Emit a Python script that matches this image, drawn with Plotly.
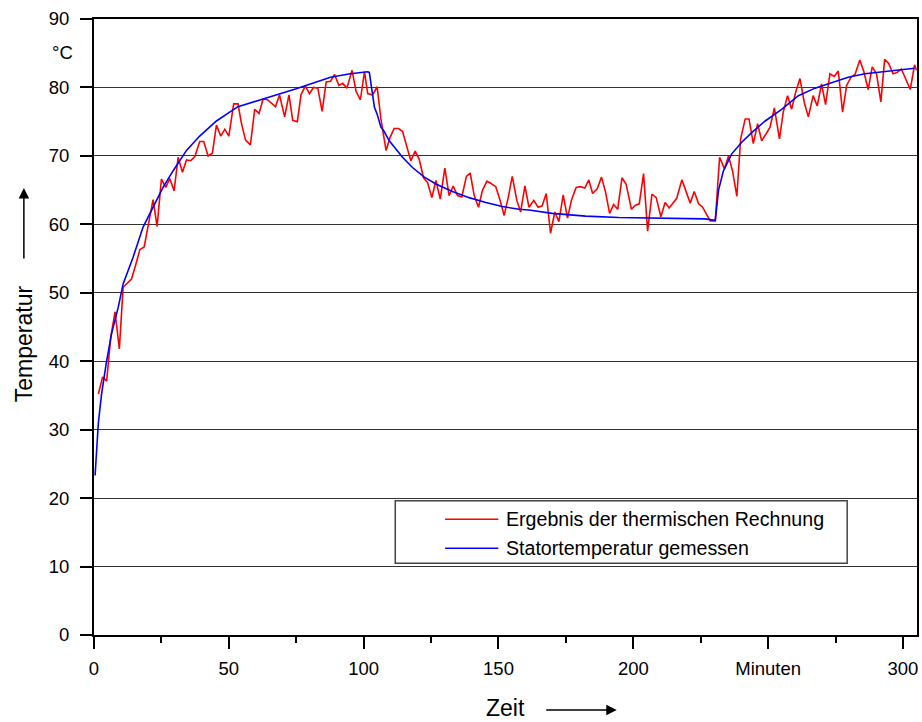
import plotly.graph_objects as go

# ---- data ----
red_t = [1.6, 3.2, 4.7, 6.2, 7.8, 9.4, 10.8, 12.3, 13.9, 15.4, 17.0, 18.6, 20.3, 21.9, 23.4, 25.0,
         26.6, 28.1, 29.7, 31.2, 32.8, 34.3, 35.9, 37.4, 39.2, 40.7, 42.3, 43.9, 45.4, 47.0,
         48.5, 50.0, 51.8, 53.4, 54.6, 56.2, 58.0, 59.6, 61.2, 62.7, 64.3, 65.7, 67.3, 68.8,
         70.7, 72.3, 73.7, 75.4, 76.8, 78.4, 79.9, 81.4, 83.0, 84.6, 86.1, 87.7, 89.2, 90.8,
         92.2, 93.8, 95.7, 97.2, 98.8, 100.3, 101.5, 103.3, 105.0, 106.4, 108.3, 109.8, 111.3,
         112.9, 114.4, 115.9, 117.5, 119.1, 120.6, 122.2, 123.7, 125.3, 126.8, 128.4, 130.1,
         131.7, 133.2, 134.8, 136.4, 138.1, 139.5, 141.0, 142.6, 144.0, 145.7, 147.1, 149.0,
         150.6, 152.1, 153.6, 155.1, 156.8, 158.2, 159.8, 161.3, 163.1, 164.7, 166.2, 167.7,
         169.3, 170.9, 172.4, 174.0, 175.6, 177.1, 178.8, 180.4, 182.0, 183.5, 184.9, 186.6,
         188.2, 189.7, 191.2, 192.7, 194.2, 195.8, 197.3, 199.3, 200.8, 202.2, 203.8, 205.3,
         206.9, 208.5, 210.2, 211.8, 213.3, 214.6, 216.1, 218.0, 219.5, 221.1, 222.6, 224.2,
         225.7, 227.3, 228.5, 230.4, 232.0, 233.8, 235.3, 236.8, 238.4, 239.8, 241.5, 242.9,
         244.5, 246.1, 247.6, 249.2, 250.7, 252.3, 254.2, 255.6, 257.2, 258.7, 260.2, 261.8,
         263.4, 264.9, 266.7, 268.2, 269.8, 271.3, 272.9, 274.5, 276.0, 277.6, 279.1, 280.7,
         282.2, 284.0, 285.5, 287.1, 288.6, 290.2, 291.8, 293.2, 294.7, 296.3, 297.9, 299.4,
         301.3, 302.7, 304.3, 305.0]
red_T = [35.2, 37.7, 37.1, 43.5, 47.2, 41.8, 50.8, 51.4, 52.0, 54.0, 56.3, 56.7, 60.5, 63.6, 59.7, 66.6,
         65.4, 66.7, 64.9, 69.8, 67.6, 69.4, 69.3, 69.9, 72.1, 72.1, 70.0, 70.4, 74.5, 72.9,
         73.9, 72.9, 77.6, 77.6, 74.9, 72.3, 71.6, 76.8, 76.2, 78.3, 78.2, 77.7, 77.2, 78.9,
         75.7, 78.9, 75.2, 75.0, 79.0, 80.2, 79.1, 80.0, 79.9, 76.5, 80.8, 80.9, 81.9, 80.3,
         80.6, 79.9, 82.5, 79.4, 78.2, 82.3, 79.1, 78.9, 80.1, 75.4, 70.8, 72.7, 74.0,
         74.0, 73.6, 71.5, 69.3, 70.7, 69.5, 66.8, 66.1, 63.9, 66.4, 63.7, 68.2,
         64.2, 65.6, 64.2, 64.0, 67.0, 67.5, 64.2, 62.5, 64.9, 66.3, 66.0, 65.5,
         63.5, 61.3, 63.9, 67.0, 63.5, 61.8, 65.6, 62.5, 63.5, 62.5, 62.7, 64.5,
         58.7, 61.8, 60.4, 64.3, 60.9, 63.6, 65.4, 65.5, 65.3, 66.5, 64.5, 65.2,
         66.9, 64.7, 61.6, 62.9, 62.2, 66.8, 65.9, 62.2, 62.8, 63.0, 67.4, 59.0,
         64.4, 63.9, 61.1, 63.2, 62.4, 63.0, 63.8, 66.5, 64.8, 63.1, 64.8, 63.0,
         62.5, 61.3, 60.5, 60.5, 69.8, 68.1, 70.0, 67.8, 64.1, 72.5, 75.4, 75.4,
         71.8, 74.7, 72.2, 73.2, 74.2, 77.0, 72.5, 76.4, 78.8, 76.8, 79.3, 81.3,
         77.8, 75.7, 78.8, 77.3, 80.5, 77.5, 82.0, 81.6, 82.4, 76.4, 80.3, 81.5,
         81.9, 84.0, 82.3, 79.7, 83.0, 82.0, 77.9, 84.1, 83.5, 82.0, 82.2, 82.7,
         81.1, 79.7, 83.3, 82.5]

blue_t = [0.4, 1.6, 2.8, 4.7, 6.5, 9.0, 10.8, 14.5, 18.2, 21.9, 25.6, 29.3, 34.3, 39.2, 45.4,
          50.3, 53.4, 62.7, 75.0, 87.7, 95.0, 101.5, 102.1, 103.3, 104.0, 105.0, 106.4, 107.4,
          109.5, 114.4, 118.1, 122.5, 126.8, 132.9, 139.1, 145.3, 151.4, 157.6, 161.3, 169.9,
          182.3, 194.6, 206.9, 219.3, 226.6, 230.4, 231.6, 233.4, 236.5, 240.2, 243.9, 248.9,
          255.0, 261.2, 267.4, 273.5, 279.7, 285.9, 292.0, 298.2, 304.3]
blue_T = [23.3, 30.9, 35.2, 40.1, 44.0, 47.9, 51.3, 55.2, 59.6, 62.5, 65.4, 67.8, 70.8, 72.9, 75.1,
          76.4, 77.2, 78.3, 79.8, 81.5, 82.0, 82.3, 82.2, 79.0, 77.1, 76.1, 74.2, 73.7,
          72.2, 69.8, 68.3, 66.9, 65.9, 64.8, 63.9, 63.2, 62.6, 62.2, 62.1, 61.6,
          61.2, 61.0, 60.9, 60.9, 60.8, 60.6, 65.0, 67.8, 70.3, 72.0, 73.4, 75.1,
          76.8, 78.8, 79.9, 80.7, 81.5, 82.0, 82.3, 82.6, 82.8]

x_tickvals = [0, 50, 100, 150, 200, 250, 300]
x_ticktext = ["0", "50", "100", "150", "200", "Minuten", "300"]
y_tickvals = [0, 10, 20, 30, 40, 50, 60, 70, 80, 90]

red_name = "Ergebnis der thermischen Rechnung"
blue_name = "Statortemperatur gemessen"

FONT = "Liberation Sans, Arial, sans-serif"

fig = go.Figure()
fig.add_trace(go.Scatter(x=red_t, y=red_T, mode="lines", name=red_name,
                         line=dict(color="#FF0000", width=1.6), showlegend=False))
fig.add_trace(go.Scatter(x=blue_t, y=blue_T, mode="lines", name=blue_name,
                         line=dict(color="#0000FF", width=1.6), showlegend=False))

L, R, T, B = 94, 3, 19, 87
W, H = 922, 722
pw, ph = W - L - R, H - T - B


def px(xp):
    return (xp - L) / pw


def py(yp):
    return (H - B - yp) / ph


fig.update_layout(
    width=W, height=H,
    margin=dict(l=L, r=R, t=T, b=B, pad=0),
    paper_bgcolor="white", plot_bgcolor="white",
    font=dict(family=FONT, size=18.5, color="black"),
    showlegend=False,
)
fig.update_xaxes(
    range=[0, 305.2], tickvals=x_tickvals, ticktext=x_ticktext,
    showgrid=False, zeroline=False,
    showline=True, linecolor="black", linewidth=2, mirror=True,
    ticks="outside", ticklen=12, tickwidth=2, tickcolor="black",
    ticklabelstandoff=4,
    minor=dict(dtick=25, tick0=0, ticks="outside", ticklen=6, tickwidth=2,
               tickcolor="black", showgrid=False),
    tickfont=dict(size=18.5),
)
fig.update_yaxes(
    range=[0, 90], tickvals=y_tickvals,
    showgrid=True, gridcolor="#333333", gridwidth=1, zeroline=False,
    showline=True, linecolor="black", linewidth=2, mirror=True,
    ticks="outside", ticklen=12, tickwidth=2, tickcolor="black",
    ticklabelstandoff=7,
    tickfont=dict(size=18.5),
)

# legend box (drawn manually to match the reference layout)
fig.add_shape(type="rect", xref="paper", yref="paper",
              x0=px(396), x1=px(849), y0=py(563.3), y1=py(500.7),
              line=dict(color="#444444", width=1.5), fillcolor="white", layer="above")
for name, col, yrow in [(red_name, "#FF0000", 519.3), (blue_name, "#0000FF", 548.3)]:
    fig.add_shape(type="line", xref="paper", yref="paper",
                  x0=px(446), x1=px(499.3), y0=py(yrow), y1=py(yrow),
                  line=dict(color=col, width=1.6), layer="above")
    fig.add_annotation(xref="paper", yref="paper", x=px(505), y=py(yrow),
                       text=name, showarrow=False, xanchor="left", yanchor="middle",
                       font=dict(size=19.6, family=FONT))

# unit label
fig.add_annotation(xref="paper", yref="paper", x=px(75), y=py(52), text="°C",
                   showarrow=False, xanchor="right", yanchor="middle", font=dict(size=18.5))

# axis titles with arrows
fig.add_annotation(xref="paper", yref="paper", x=px(24), y=py(344), text="Temperatur",
                   textangle=-90, showarrow=False, xanchor="center", yanchor="middle",
                   font=dict(size=23))
fig.add_annotation(xref="paper", yref="paper", x=px(23.7), y=py(188), text="",
                   showarrow=True, ax=0, ay=72, arrowhead=2, arrowsize=1.4,
                   arrowwidth=1.5, arrowcolor="black")
fig.add_annotation(xref="paper", yref="paper", x=px(506), y=py(708), text="Zeit",
                   showarrow=False, xanchor="center", yanchor="middle", font=dict(size=23))
fig.add_annotation(xref="paper", yref="paper", x=px(618), y=py(710), text="",
                   showarrow=True, ax=-72, ay=0, arrowhead=2, arrowsize=1.4,
                   arrowwidth=1.5, arrowcolor="black")

fig.write_html(
    "out.html",
    config={"displayModeBar": False},
    post_script="document.body.style.margin='0px';document.body.style.padding='0px';"
                "document.documentElement.style.overflow='hidden';",
)
